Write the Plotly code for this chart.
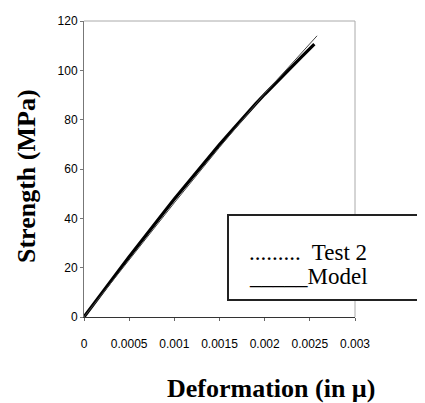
import plotly.graph_objects as go

# Data
test_x = [0, 0.0001, 0.0002, 0.0003, 0.0004, 0.0005, 0.0006, 0.0007, 0.0008, 0.0009,
          0.0010, 0.0011, 0.0012, 0.0013, 0.0014, 0.0015, 0.0016, 0.0017, 0.0018, 0.0019,
          0.0020, 0.0021, 0.0022, 0.0023, 0.0024, 0.0025, 0.00255]
test_y = [0, 5.0, 9.9, 14.8, 19.6, 24.4, 29.2, 33.9, 38.6, 43.2,
          47.8, 52.3, 56.8, 61.2, 65.6, 69.9, 74.1, 78.3, 82.4, 86.4,
          90.3, 94.1, 97.9, 101.6, 105.2, 108.8, 110.6]

model_x = [0, 0.0005, 0.0010, 0.0015, 0.0020, 0.00258]
model_y = [0, 23.3, 46.3, 68.8, 90.6, 114.0]

x_ticks = [0, 0.0005, 0.001, 0.0015, 0.002, 0.0025, 0.003]
x_tick_labels = ["0", "0.0005", "0.001", "0.0015", "0.002", "0.0025", "0.003"]
y_ticks = [0, 20, 40, 60, 80, 100, 120]
y_tick_labels = ["0", "20", "40", "60", "80", "100", "120"]

legend_lines = [".........  Test 2", "_____Model"]

tick_font = dict(family="Liberation Sans Narrow, Arial Narrow, Liberation Sans", size=12, color="#000")
serif = "Liberation Serif, Times New Roman, serif"

fig = go.Figure()
fig.add_trace(go.Scatter(x=test_x, y=test_y, mode="lines",
                         line=dict(color="#000", width=3.2), showlegend=False))
fig.add_trace(go.Scatter(x=model_x, y=model_y, mode="lines",
                         line=dict(color="#444", width=1), showlegend=False))

# page body adds an 8px offset; margins compensate
fig.update_layout(
    width=425, height=403,
    margin=dict(l=76, r=78, t=13, b=94, autoexpand=False),
    paper_bgcolor="white", plot_bgcolor="white",
    showlegend=False,
    xaxis=dict(range=[0, 0.003], tickvals=x_ticks, ticktext=x_tick_labels,
               showgrid=False, zeroline=False, showline=True, linecolor="#333", linewidth=1,
               ticks="outside", ticklen=3, tickcolor="#666", tickfont=tick_font,
               ticklabelstandoff=13),
    xaxis2=dict(range=[0, 0.003], tickvals=x_ticks, overlaying="x", anchor="y", side="bottom",
                showgrid=False, zeroline=False, showline=False, showticklabels=False,
                ticks="inside", ticklen=5, tickcolor="#666"),
    yaxis=dict(range=[0, 120], tickvals=y_ticks, ticktext=y_tick_labels,
               showgrid=False, zeroline=False, showline=True, linecolor="#777", linewidth=1,
               ticks="outside", ticklen=3, tickcolor="#777", tickfont=tick_font),
)

# top and right frame (light gray)
fig.add_shape(type="line", xref="x domain", yref="y domain", x0=0, x1=1, y0=1, y1=1,
              line=dict(color="#aaa", width=1))
fig.add_shape(type="line", xref="x domain", yref="y domain", x0=1, x1=1, y0=0, y1=1,
              line=dict(color="#aaa", width=1))

# legend-like box
fig.add_shape(type="rect", xref="paper", yref="paper",
              x0=(228 - 84) / 271, x1=(440 - 84) / 271,
              y0=(317 - 300) / 296, y1=(317 - 215) / 296,
              line=dict(color="#222", width=2), fillcolor="white")
fig.add_annotation(xref="paper", yref="paper", x=(247 - 84) / 271, y=(317 - 252) / 296,
                   text=legend_lines[0], showarrow=False, xanchor="left", yanchor="middle",
                   font=dict(family=serif, size=23, color="#000"))
fig.add_annotation(xref="paper", yref="paper", x=(247 - 84) / 271, y=(317 - 276) / 296,
                   text=legend_lines[1], showarrow=False, xanchor="left", yanchor="middle",
                   font=dict(family=serif, size=23, color="#000"))

# axis titles
fig.add_annotation(xref="paper", yref="paper", x=(271 - 84) / 271, y=(317 - 388) / 296,
                   text="<b>Deformation (in µ)</b>", showarrow=False,
                   xanchor="center", yanchor="middle",
                   font=dict(family=serif, size=26, color="#000"))
fig.add_annotation(xref="paper", yref="paper", x=(26 - 84) / 271, y=(317 - 176) / 296,
                   text="<b>Strength (MPa)</b>", showarrow=False, textangle=-90,
                   xanchor="center", yanchor="middle",
                   font=dict(family=serif, size=26, color="#000"))

fig.write_html("out.html")
